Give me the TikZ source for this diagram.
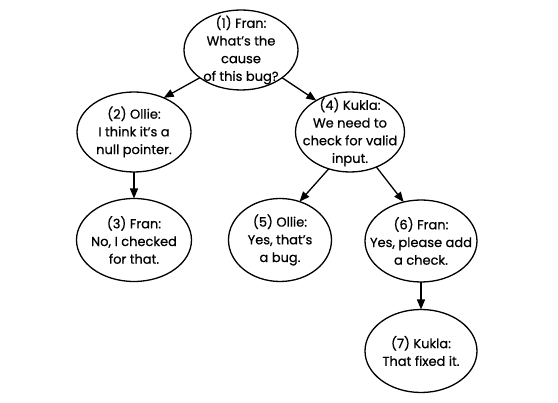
\documentclass[tikz,border=0pt]{standalone}
\usepackage{fontspec}
\setmainfont{Poppins}[FakeBold=0.6]
\usetikzlibrary{shapes.geometric,arrows.meta}
\begin{document}
\begin{tikzpicture}[x=1pt,y=-1pt,
  bub/.style={ellipse,draw,line width=1.3pt,inner sep=0pt,outer sep=0pt},
  txt/.style={align=center,inner sep=0pt,font=\fontsize{13}{17.7}\selectfont},
  arr/.style={line width=1.3pt,-{Triangle[length=10pt,width=8pt]}}]
\useasboundingbox (0,0) rectangle (558,403);
\node[bub,minimum width=114pt,minimum height=80pt,
  label={[txt]center:{(1) Fran:\\What’s the\\cause\\of this bug?}}] (n1) at (241,50) {};
\node[bub,minimum width=114pt,minimum height=80pt,
  label={[txt]center:{(2) Ollie:\\I think it’s a\\null pointer.}}] (n2) at (134,132) {};
\node[bub,minimum width=115pt,minimum height=83pt,
  label={[txt]center:{(3) Fran:\\No, I checked\\for that.}}] (n3) at (134,240) {};
\node[bub,minimum width=109pt,minimum height=80pt,
  label={[txt]center:{(4) Kukla:\\We need to\\check for valid\\input.}}] (n4) at (350,132) {};
\node[bub,minimum width=103pt,minimum height=83pt,
  label={[txt]center:{(5) Ollie:\\Yes, that’s\\a bug.}}] (n5) at (280,240) {};
\node[bub,minimum width=112pt,minimum height=82pt,
  label={[txt]center:{(6) Fran:\\Yes, please add\\a check.}}] (n6) at (421,241) {};
\node[bub,minimum width=112pt,minimum height=83pt,
  label={[txt]center:{(7) Kukla:\\That fixed it.}}] (n7) at (421,351) {};
\draw[arr] (n1.214) -- (n2.49);
\draw[arr] (n1.326) -- (n4.137);
\draw[arr] (n2.south) -- (n3.north);
\draw[arr] (n4.240) -- (n5.63);
\draw[arr] (n4.307) -- (n6.114);
\draw[arr] (n6.south) -- (n7.north);
\end{tikzpicture}
\end{document}
